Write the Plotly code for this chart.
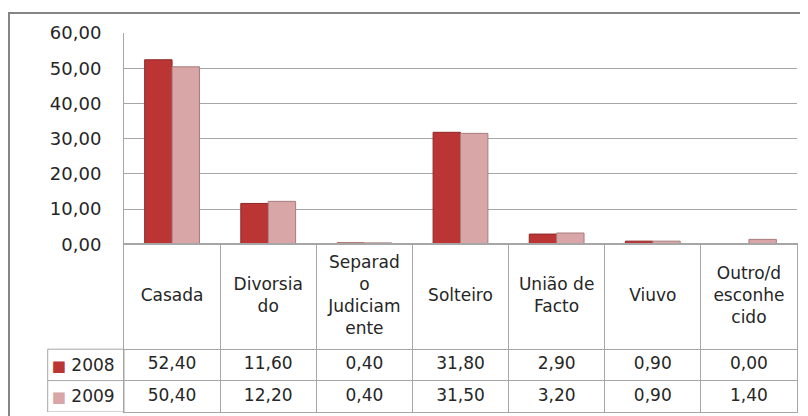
import plotly.graph_objects as go

# data
categories = ["Casada", "Divorsiado", "Separado Judiciamente", "Solteiro",
              "União de Facto", "Viuvo", "Outro/desconhecido"]
header_labels = ["Casada", "Divorsia<br>do", "Separad<br>o<br>Judiciam<br>ente",
                 "Solteiro", "União de<br>Facto", "Viuvo", "Outro/d<br>esconhe<br>cido"]
years = ["2008", "2009"]
values_2008 = [52.40, 11.60, 0.40, 31.80, 2.90, 0.90, 0.00]
values_2009 = [50.40, 12.20, 0.40, 31.50, 3.20, 0.90, 1.40]
y_ticks = [0, 10, 20, 30, 40, 50, 60]

colors = {"2008": "#BC3535", "2009": "#D8A6A7"}
outlines = {"2008": "#8E2727", "2009": "#A87C7D"}

FONT = "DejaVu Sans"
TEXT = "#262626"
GRID = "#A6A6A6"

# the page body adds an 8px margin, so work in screen pixels minus OFF
OFF = 8
W, H = 808 - OFF, 416 - OFF
ML, MR, MT, MB = 124 - OFF, 11, 33 - OFF, 4
plot_w = W - ML - MR
plot_h = H - MT - MB
zero_px = 244.3             # screen y of the 0 line / top of data table
row_h = 31.4                # data table row height (y2 units == px)
table_h = 416 - MB - zero_px
split = table_h / plot_h


def px_x(p):
    return (p - OFF - ML) / plot_w


def px_y(p):
    return (H - MB - (p - OFF)) / plot_h


def fmt(v):
    return f"{v:.2f}".replace(".", ",")


fig = go.Figure()

series = {"2008": values_2008, "2009": values_2009}
for yr in years:
    fig.add_trace(go.Bar(
        x=categories, y=series[yr], name=yr,
        marker=dict(color=colors[yr], line=dict(color=outlines[yr], width=1)),
        xaxis="x", yaxis="y", showlegend=False,
    ))

# data table: header row and value rows
header_y = 2 * row_h + (table_h - 2 * row_h) / 2
fig.add_trace(go.Scatter(
    x=categories, y=[header_y] * len(categories), text=header_labels,
    mode="text", textfont=dict(family=FONT, size=17, color=TEXT),
    xaxis="x2", yaxis="y2", showlegend=False, hoverinfo="skip",
))
row_centers = {"2008": 1.5 * row_h, "2009": 0.5 * row_h}
for yr in years:
    fig.add_trace(go.Scatter(
        x=categories, y=[row_centers[yr]] * len(categories),
        text=[fmt(v) for v in series[yr]],
        mode="text", textfont=dict(family=FONT, size=17, color=TEXT),
        xaxis="x2", yaxis="y2", showlegend=False, hoverinfo="skip",
    ))

# legend column cells (left of the table)
fig.add_shape(type="rect", xref="paper", yref="y2",
              x0=px_x(47.7), x1=0, y0=0, y1=2 * row_h,
              line=dict(color=GRID, width=1))
fig.add_shape(type="line", xref="paper", yref="y2",
              x0=px_x(47.7), x1=0, y0=row_h, y1=row_h,
              line=dict(color=GRID, width=1))

# outer chart frame (cropped on the right and bottom)
fig.add_shape(type="rect", xref="paper", yref="paper",
              x0=px_x(9), x1=1.2, y0=-0.3, y1=px_y(13),
              line=dict(color="#858585", width=2))

fig.update_layout(
    width=W, height=H,
    margin=dict(l=ML, r=MR, t=MT, b=MB, autoexpand=False),
    paper_bgcolor="white", plot_bgcolor="white",
    separators=",.",
    font=dict(family=FONT, size=17, color=TEXT),
    barmode="group", bargap=0.43, bargroupgap=0,
    xaxis=dict(domain=[0, 1], anchor="y", range=[-0.5, 6.5], automargin=False,
               showticklabels=False, showgrid=False, ticks="",
               showline=True, linecolor=GRID, linewidth=1),
    yaxis=dict(domain=[split, 1], anchor="x", range=[0, 60], automargin=False,
               tickvals=y_ticks, tickformat=".2f",
               showgrid=True, gridcolor=GRID, gridwidth=1,
               zeroline=False, showline=True, linecolor=GRID,
               ticks="", ticklabelstandoff=18, tickfont=dict(size=18)),
    xaxis2=dict(domain=[0, 1], anchor="y2", matches="x", range=[-0.5, 6.5],
                automargin=False,
                showticklabels=False, ticks="", tickson="boundaries",
                showgrid=True, gridcolor=GRID, gridwidth=1,
                showline=True, mirror=True, linecolor=GRID),
    yaxis2=dict(domain=[0, split], anchor="x2", range=[0, table_h],
                automargin=False,
                tickvals=[row_centers[y] for y in years],
                ticktext=[f"<span style='color:{colors[y]};font-size:15px'>■</span> {y}"
                          for y in years],
                showgrid=False, zeroline=False, ticks="",
                showline=True, mirror=True, linecolor=GRID,
                minor=dict(tickvals=[row_h, 2 * row_h], showgrid=True,
                           gridcolor=GRID, gridwidth=1, ticks=""),
                ticklabelstandoff=5, tickfont=dict(size=17)),
)

fig.write_html("out.html")
